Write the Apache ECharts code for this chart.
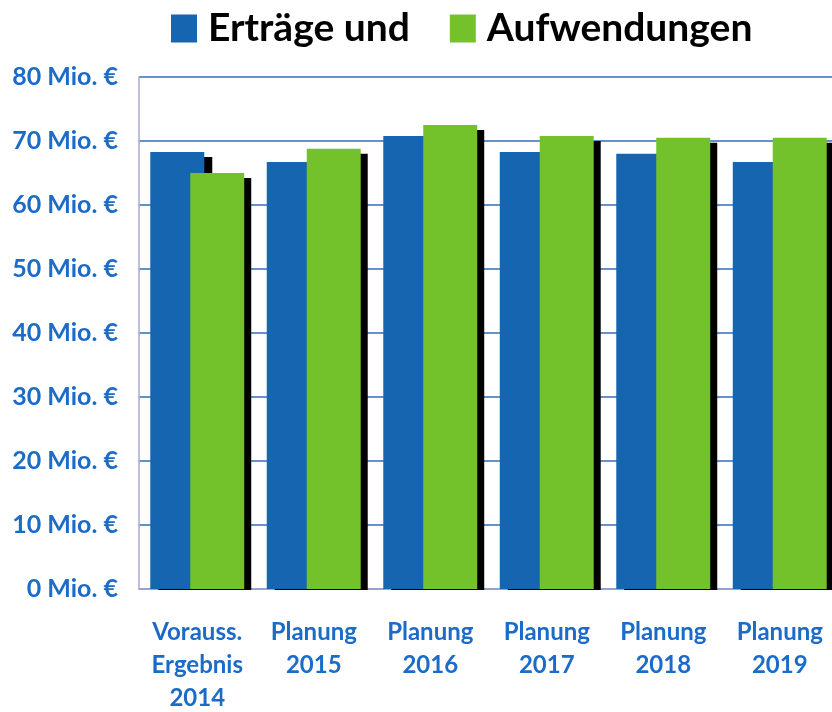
<!DOCTYPE html>
<html>
<head>
<meta charset="utf-8">
<script src="https://cdn.jsdelivr.net/npm/echarts@6/dist/echarts.min.js"></script>
<style>
  html, body { margin: 0; padding: 0; background: #fff; }
  #chart { width: 832px; height: 712px; }
</style>
</head>
<body>
<div id="chart"></div>
<script>
// Kategorien und Werte (Mio. €)
var categories = ['Vorauss.\nErgebnis\n2014', 'Planung\n2015', 'Planung\n2016', 'Planung\n2017', 'Planung\n2018', 'Planung\n2019'];
var ertraege = [68.3, 66.7, 70.8, 68.3, 68.0, 66.7];
var aufwendungen = [65.0, 68.8, 72.5, 70.8, 70.5, 70.5];
var yTicks = [0, 10, 20, 30, 40, 50, 60, 70, 80];

var blue = '#1565b0';
var green = '#73c22b';
var labelBlue = '#1a6cc8';

var gridTop = 77, gridBottom = 123;

var myChart = echarts.init(document.getElementById('chart'));

myChart.setOption({
  animation: false,
  legend: {
    top: 4,
    left: 166,
    itemWidth: 26,
    itemHeight: 28,
    itemGap: 40,
    icon: 'rect',
    textStyle: { fontFamily: 'Lato', fontWeight: 'bold', fontSize: 39, color: '#000', padding: [0, 0, 0, 6] },
    data: ['Erträge und', 'Aufwendungen']
  },
  grid: { left: 139, right: -6, top: gridTop, bottom: gridBottom, outerBoundsMode: 'none', containLabel: false },
  // schatten unterhalb der achse abdecken
  graphic: [{
    type: 'rect',
    z: 100,
    shape: { x: 130, y: 712 - gridBottom + 1, width: 720, height: 12 },
    style: { fill: '#fff' }
  }],
  xAxis: {
    type: 'category',
    data: categories,
    axisLine: { lineStyle: { color: '#a8a8d0', width: 1.5 } },
    axisTick: { show: false },
    axisLabel: {
      interval: 0,
      margin: 27,
      color: labelBlue,
      fontFamily: 'Lato',
      fontWeight: 'bold',
      fontSize: 24,
      lineHeight: 33
    }
  },
  yAxis: {
    type: 'value',
    min: yTicks[0],
    max: yTicks[yTicks.length - 1],
    interval: 10,
    axisLine: { show: true, lineStyle: { color: '#a8a8d0', width: 1.5 } },
    axisTick: { show: false },
    splitLine: { lineStyle: { color: '#2e6fc0', width: 1.5 } },
    axisLabel: {
      margin: 21,
      color: labelBlue,
      fontFamily: 'Lato',
      fontWeight: 'bold',
      fontSize: 25,
      formatter: function (v) { return v + ' Mio. €'; }
    }
  },
  series: [
    {
      name: 'Erträge und',
      type: 'bar',
      data: ertraege,
      barWidth: 54,
      barGap: '-26%',
      itemStyle: { color: blue, shadowColor: '#000', shadowOffsetX: 8, shadowOffsetY: 5, shadowBlur: 0 }
    },
    {
      name: 'Aufwendungen',
      type: 'bar',
      data: aufwendungen,
      barWidth: 54,
      barGap: '-26%',
      itemStyle: { color: green, shadowColor: '#000', shadowOffsetX: 7, shadowOffsetY: 5, shadowBlur: 0 }
    }
  ]
});
</script>
</body>
</html>
